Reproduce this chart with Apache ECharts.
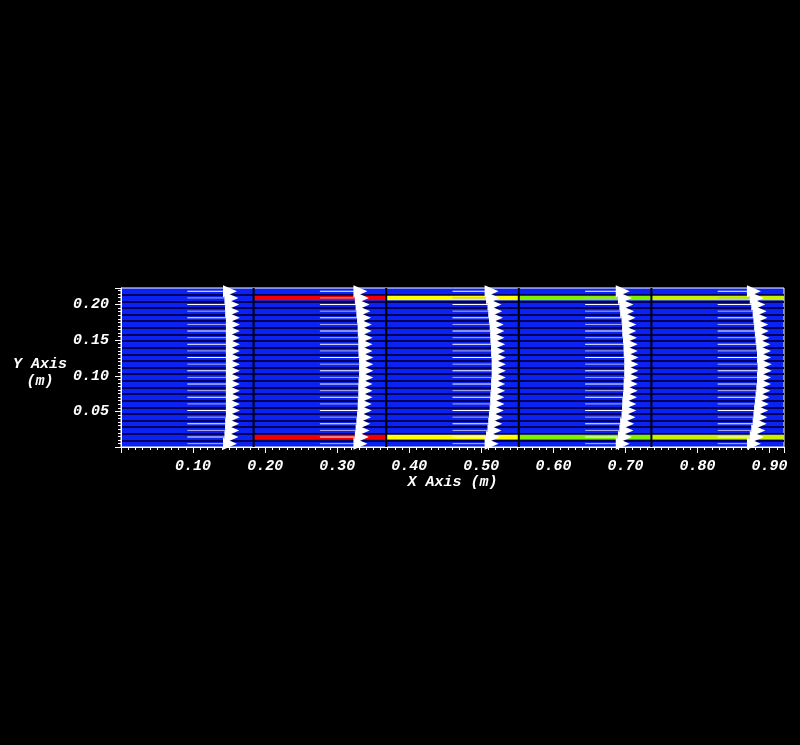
<!DOCTYPE html>
<html>
<head>
<meta charset="utf-8">
<script src="https://cdn.jsdelivr.net/npm/echarts@6/dist/echarts.min.js"></script>
<style>
html,body{margin:0;padding:0;background:#000;}
#c{width:800px;height:745px;}
</style>
</head>
<body>
<div id="c"></div>
<script>
// ---- data ----
const xMax = 0.92;
const yMax = 0.2232;
const rowHeight = 0.0093;
const segmentEdges = [0.184, 0.368, 0.552, 0.736];
const rowY = [0.0047, 0.0140, 0.0233, 0.0326, 0.0419, 0.0512, 0.0605, 0.0698,
              0.0791, 0.0884, 0.0977, 0.1070, 0.1163, 0.1256, 0.1349, 0.1442,
              0.1535, 0.1628, 0.1721, 0.1814, 0.1907, 0.2000, 0.2093, 0.2186];
const stationTail = [0.092, 0.276, 0.460, 0.644, 0.828];
// vector lengths (m) per station, rows from bottom wall to top wall
const len1 = [0.069,0.071,0.072,0.072,0.073,0.073,0.073,0.073,0.073,0.073,0.073,0.073,
              0.073,0.073,0.073,0.073,0.073,0.073,0.073,0.073,0.072,0.072,0.071,0.069];
const len2 = [0.066,0.068,0.069,0.070,0.071,0.072,0.072,0.073,0.073,0.073,0.074,0.074,
              0.074,0.074,0.073,0.073,0.073,0.072,0.072,0.071,0.070,0.069,0.068,0.066];
const len3 = [0.064,0.066,0.068,0.069,0.070,0.071,0.072,0.072,0.073,0.073,0.074,0.074,
              0.074,0.074,0.073,0.073,0.072,0.072,0.071,0.070,0.069,0.068,0.066,0.064];
const len4 = [0.062,0.065,0.067,0.068,0.070,0.071,0.071,0.072,0.073,0.073,0.074,0.074,
              0.074,0.074,0.073,0.073,0.072,0.071,0.071,0.070,0.068,0.067,0.065,0.062];
const len5 = [0.060,0.064,0.066,0.068,0.069,0.070,0.071,0.072,0.073,0.074,0.074,0.075,
              0.075,0.074,0.074,0.073,0.072,0.071,0.070,0.069,0.068,0.066,0.064,0.060];
const stationLengths = [len1, len2, len3, len4, len5];
// wall strips: [xStart, xEnd, yBottom, yTop, colourIndex]
const strips = [
  [0.184, 0.368, 0.0093, 0.0186, 0], [0.184, 0.368, 0.2046, 0.2139, 0],
  [0.368, 0.552, 0.0093, 0.0186, 1], [0.368, 0.552, 0.2046, 0.2139, 1],
  [0.552, 0.736, 0.0093, 0.0186, 2], [0.552, 0.736, 0.2046, 0.2139, 2],
  [0.736, 0.920, 0.0093, 0.0186, 3], [0.736, 0.920, 0.2046, 0.2139, 3]
];
const xLabelTitle = 'X Axis (m)';
const yLabelTitle = ['Y Axis', '(m)'];

// ---- styles ----
const stripColors = ['#f00000', '#ffff00', '#80f000', '#c8f000'];
const FONT = 'Liberation Mono';

const arrows = [];
stationTail.forEach((tx, s) => {
  rowY.forEach((y, i) => arrows.push([tx, y, stationLengths[s][i], i % 2]));
});

const chart = echarts.init(document.getElementById('c'), null, {renderer: 'canvas'});
const labelStyle = {color: '#fff', fontFamily: FONT, fontWeight: 'bold', fontStyle: 'italic', fontSize: 15};

chart.setOption({
  backgroundColor: '#000',
  animation: false,
  grid: {left: 121, right: 16, top: 288, bottom: 298, show: true,
         backgroundColor: '#0a22f2', borderColor: '#ffffff', borderWidth: 1},
  xAxis: [{
    type: 'value', min: 0, max: xMax, interval: 0.1, position: 'bottom',
    name: xLabelTitle, nameLocation: 'middle', nameGap: 22,
    nameTextStyle: labelStyle,
    axisLine: {show: true, lineStyle: {color: '#fff', width: 1}},
    axisTick: {show: true, length: 6, inside: false, lineStyle: {color: '#fff'}},
    minorTick: {show: true, splitNumber: 10, length: 3, lineStyle: {color: '#fff'}},
    splitLine: {show: false},
    axisLabel: Object.assign({margin: 12, showMinLabel: false, showMaxLabel: false,
                formatter: v => v.toFixed(2)}, labelStyle)
  }],
  yAxis: [{
    type: 'value', min: 0, max: yMax, interval: 0.05,
    name: '{g|}\n{t|' + yLabelTitle[0] + '}\n{t|' + yLabelTitle[1] + '}',
    nameLocation: 'middle', nameRotate: 0, nameGap: 61,
    nameTextStyle: Object.assign({align: 'center', rich: {
      g: {height: 10, lineHeight: 10},
      t: Object.assign({lineHeight: 17, align: 'center'}, labelStyle)
    }}, labelStyle),
    axisLine: {show: true, lineStyle: {color: '#fff', width: 1}},
    axisTick: {show: true, length: 6, lineStyle: {color: '#fff'}},
    minorTick: {show: true, splitNumber: 10, length: 3, lineStyle: {color: '#fff'}},
    splitLine: {show: false},
    axisLabel: Object.assign({margin: 12, showMinLabel: false, showMaxLabel: false,
                formatter: v => v.toFixed(2)}, labelStyle)
  }, {
    type: 'value', min: 0, max: yMax, interval: rowHeight, position: 'right',
    axisLine: {show: false}, axisTick: {show: false}, axisLabel: {show: false},
    splitLine: {show: true, showMinLine: false, showMaxLine: false,
                lineStyle: {color: '#00005a', width: 2}}
  }],
  series: [{
    type: 'custom', name: 'walls', coordinateSystem: 'cartesian2d', z: 2,
    data: strips, silent: true,
    renderItem: (params, api) => {
      const a = api.coord([api.value(0), api.value(3)]);
      const b = api.coord([api.value(1), api.value(2)]);
      return {type: 'rect', shape: {x: a[0], y: a[1] + 1, width: b[0] - a[0], height: b[1] - a[1] - 2},
              style: {fill: stripColors[api.value(4)]}};
    }
  }, {
    type: 'custom', name: 'cell edges', coordinateSystem: 'cartesian2d', z: 3,
    data: segmentEdges.map(x => [x]), silent: true,
    renderItem: (params, api) => {
      const a = api.coord([api.value(0), 0]);
      const b = api.coord([api.value(0), yMax]);
      return {type: 'line', shape: {x1: a[0], y1: a[1], x2: b[0], y2: b[1]},
              style: {stroke: '#000000', lineWidth: 2}};
    }
  }, {
    type: 'custom', name: 'velocity', coordinateSystem: 'cartesian2d', z: 4,
    data: arrows, silent: true, clip: false,
    renderItem: (params, api) => {
      const x = api.value(0), y = api.value(1), len = api.value(2), odd = api.value(3);
      const p0 = api.coord([x, y]);
      const p1 = api.coord([x + len, y]);
      const hl = 14, hw = 6;
      return {type: 'group', children: [
        {type: 'line', shape: {x1: p0[0], y1: p0[1], x2: p1[0] - hl + 1, y2: p1[1]},
         style: {stroke: odd ? '#ffffff' : '#b4b4e6', lineWidth: 1}},
        {type: 'polygon', shape: {points: [[p1[0] - hl, p1[1] - hw], [p1[0], p1[1]], [p1[0] - hl, p1[1] + hw]]},
         style: {fill: '#ffffff'}}
      ]};
    }
  }]
});
</script>
</body>
</html>
